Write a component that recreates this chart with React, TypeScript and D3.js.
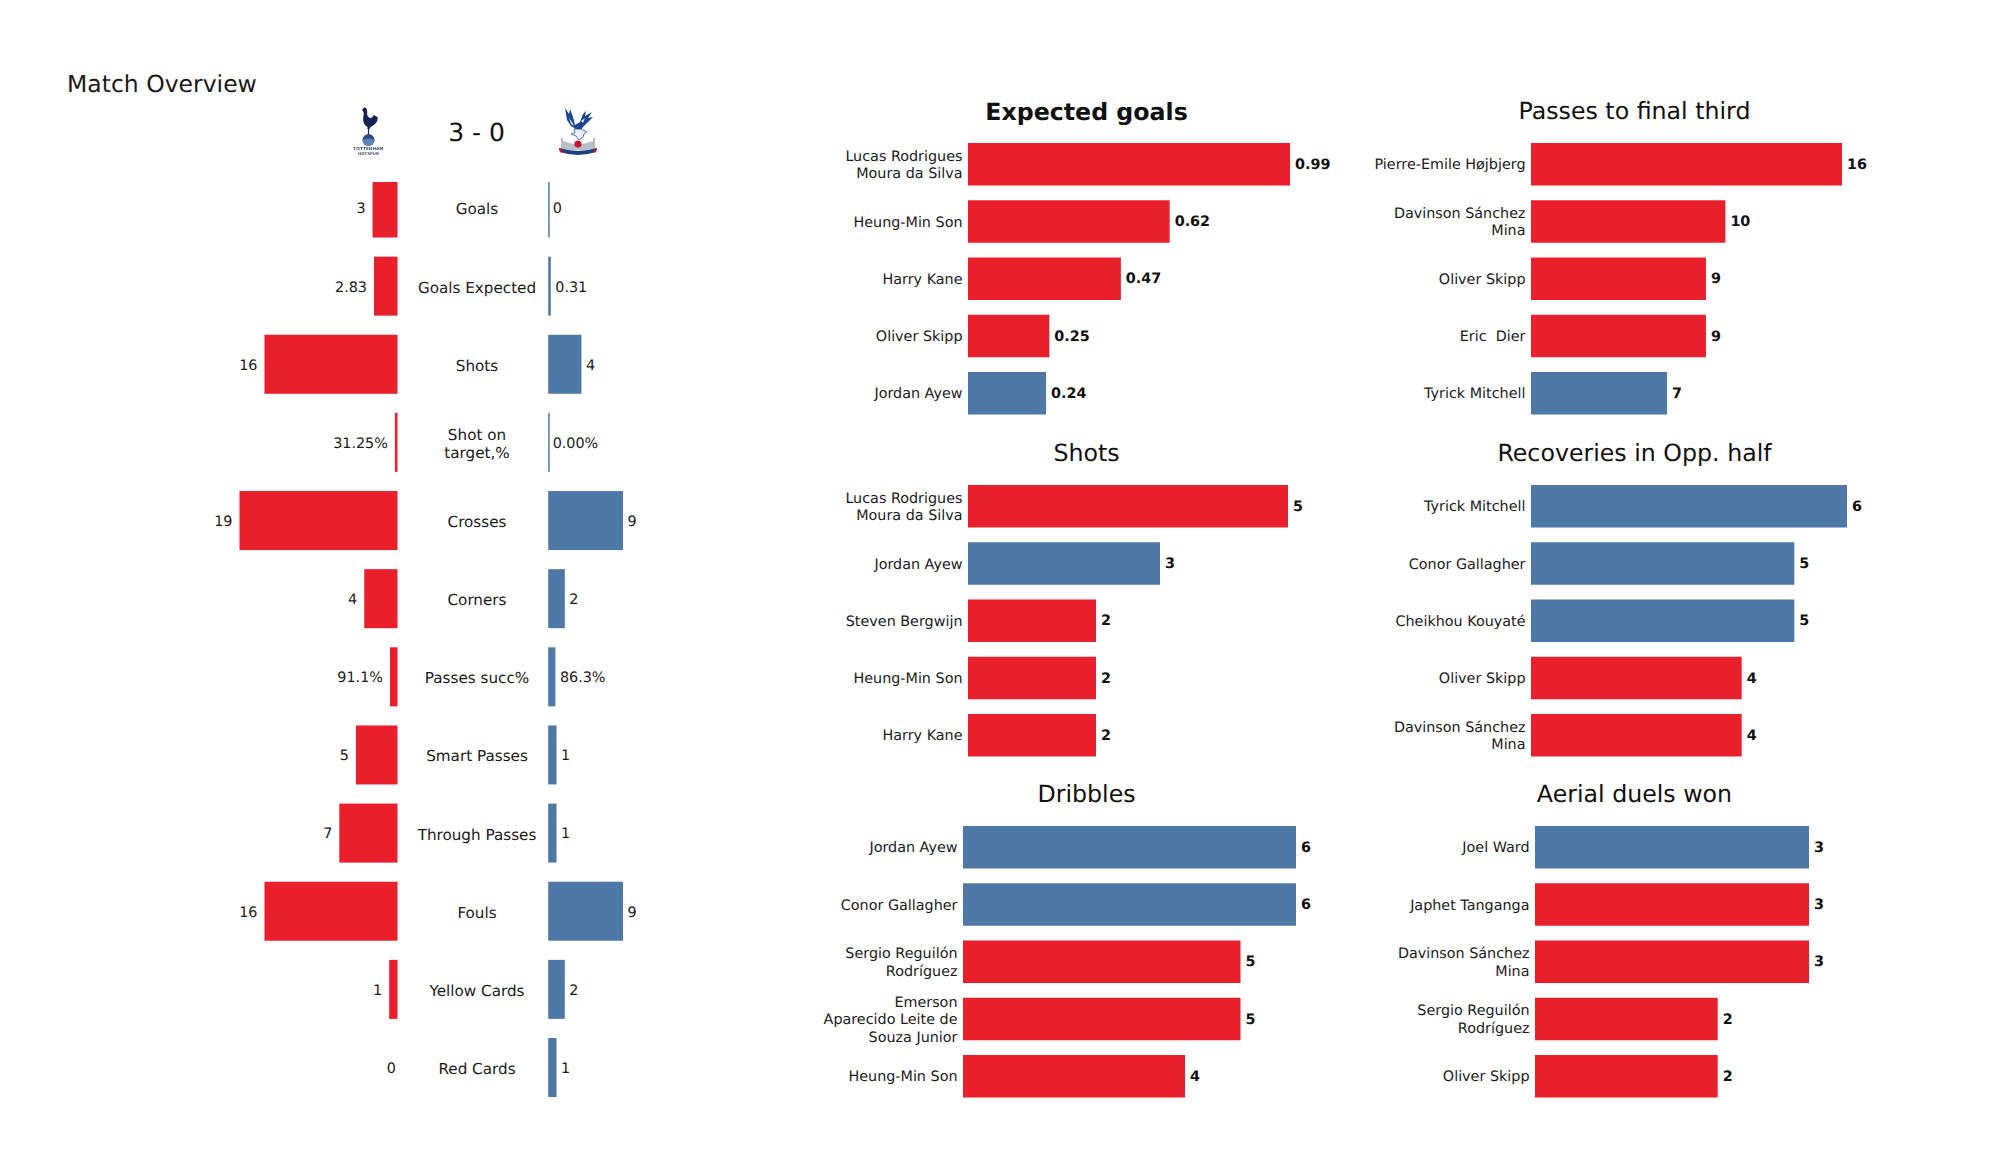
import React from "react";
import * as d3 from "d3";

const RED = "#EA1F2C";
const BLUE = "#4E79A7";
const FONT = "'DejaVu Sans', sans-serif";

const overviewLabels = ["Goals", "Goals Expected", "Shots", "Shot on\ntarget,%", "Crosses", "Corners", "Passes succ%", "Smart Passes", "Through Passes", "Fouls", "Yellow Cards", "Red Cards"];
const homeValues = [3, 2.83, 16, 0.3125, 19, 4, 0.911, 5, 7, 16, 1, 0];
const awayValues = [0, 0.31, 4, 0, 9, 2, 0.863, 1, 1, 9, 2, 1];
const homeText = ["3", "2.83", "16", "31.25%", "19", "4", "91.1%", "5", "7", "16", "1", "0"];
const awayText = ["0", "0.31", "4", "0.00%", "9", "2", "86.3%", "1", "1", "9", "2", "1"];

type Panel = { title: string; bold?: boolean; names: string[]; values: number[]; teams: string[]; text: string[]; x0: number; x1: number; max: number; top: number; titleX: number; titleY: number };

const xgNames = ["Lucas Rodrigues\nMoura da Silva", "Heung-Min Son", "Harry Kane", "Oliver Skipp", "Jordan Ayew"];
const xgValues = [0.99, 0.62, 0.47, 0.25, 0.24];
const xgTeams = ["h", "h", "h", "h", "a"];
const finalThirdNames = ["Pierre-Emile Højbjerg", "Davinson Sánchez\nMina", "Oliver Skipp", "Eric  Dier", "Tyrick Mitchell"];
const finalThirdValues = [16, 10, 9, 9, 7];
const finalThirdTeams = ["h", "h", "h", "h", "a"];
const shotNames = ["Lucas Rodrigues\nMoura da Silva", "Jordan Ayew", "Steven Bergwijn", "Heung-Min Son", "Harry Kane"];
const shotValues = [5, 3, 2, 2, 2];
const shotTeams = ["h", "a", "h", "h", "h"];
const recoveryNames = ["Tyrick Mitchell", "Conor Gallagher", "Cheikhou Kouyaté", "Oliver Skipp", "Davinson Sánchez\nMina"];
const recoveryValues = [6, 5, 5, 4, 4];
const recoveryTeams = ["a", "a", "a", "h", "h"];
const dribbleNames = ["Jordan Ayew", "Conor Gallagher", "Sergio Reguilón\nRodríguez", "Emerson\nAparecido Leite de\nSouza Junior", "Heung-Min Son"];
const dribbleValues = [6, 6, 5, 5, 4];
const dribbleTeams = ["a", "a", "h", "h", "h"];
const aerialNames = ["Joel Ward", "Japhet Tanganga", "Davinson Sánchez\nMina", "Sergio Reguilón\nRodríguez", "Oliver Skipp"];
const aerialValues = [3, 3, 3, 2, 2];
const aerialTeams = ["a", "h", "h", "h", "h"];

const panels: Panel[] = [
  { title: "Expected goals", bold: true, names: xgNames, values: xgValues, teams: xgTeams, text: xgValues.map(String), x0: 968, x1: 1290, max: 0.99, top: 143, titleX: 1086.5, titleY: 119.5 },
  { title: "Passes to final third", names: finalThirdNames, values: finalThirdValues, teams: finalThirdTeams, text: finalThirdValues.map(String), x0: 1531, x1: 1842, max: 16, top: 143, titleX: 1634.5, titleY: 119 },
  { title: "Shots", names: shotNames, values: shotValues, teams: shotTeams, text: shotValues.map(String), x0: 968, x1: 1288, max: 5, top: 485, titleX: 1086.5, titleY: 461 },
  { title: "Recoveries in Opp. half", names: recoveryNames, values: recoveryValues, teams: recoveryTeams, text: recoveryValues.map(String), x0: 1531, x1: 1847, max: 6, top: 485, titleX: 1634.5, titleY: 461 },
  { title: "Dribbles", names: dribbleNames, values: dribbleValues, teams: dribbleTeams, text: dribbleValues.map(String), x0: 963, x1: 1296, max: 6, top: 826, titleX: 1086.5, titleY: 802 },
  { title: "Aerial duels won", names: aerialNames, values: aerialValues, teams: aerialTeams, text: aerialValues.map(String), x0: 1535, x1: 1809, max: 3, top: 826, titleX: 1634.5, titleY: 802 },
];

const Multi = ({ x, y, text, size, anchor, lh }: { x: number; y: number; text: string; size: number; anchor: string; lh: number }) => {
  const lines = text.split("\n");
  const start = y - ((lines.length - 1) * lh) / 2;
  return (
    <text textAnchor={anchor as any} fontSize={size} fill="#1a1a1a">
      {lines.map((l, i) => (
        <tspan key={i} x={x} y={start + i * lh} dy="0.36em" style={{ whiteSpace: "pre" }}>{l}</tspan>
      ))}
    </text>
  );
};

const Spurs = () => (
  <g transform="translate(368.5,132)" filter="url(#soft)">
    <path fill="#132257" d="M-5,-24 C-3,-25 -2,-24 -1.5,-22 C-1,-19 -2,-17 0,-15 C2,-13 4,-14 5,-17 L9,-15 C10,-10 6,-7 2,-5 L1,-3 L-1,-3 L-1,-5 C-5,-7 -6,-12 -5,-16 C-4.5,-19 -5,-21 -6.5,-22 Z" />
    <rect x="-0.6" y="-4" width="1.2" height="7" fill="#132257" />
    <circle cx="0" cy="8" r="6" fill="#2f4f86" />
    <path d="M-6,8 A6,6 0 0 0 6,8 Q0,5 -6,8 Z" fill="#5f86b5" />
    <text y="18" textAnchor="middle" fontSize="4.3" fill="#46567a" fontWeight="bold">TOTTENHAM</text>
    <text y="23" textAnchor="middle" fontSize="3.9" fill="#46567a" fontWeight="bold">HOTSPUR</text>
  </g>
);

const Palace = () => (
  <g transform="translate(578,131)" filter="url(#soft)">
    <path fill="#1b458f" d="M-13,-23 L-9,-17 L-8,-22 L-5,-14 L-3,-6 L2,-9 L5,-17 L8,-20 L7,-15 L14,-19 L10,-13 L15,-14 L9,-8 L5,-4 L3,-1 L-2,-2 L-7,-5 L-11,-11 Z" />
    <path fill="#dfe7f1" d="M-9,-13 L-6,-9 L-4,-5 L-7,-7 Z M3,-10 L7,-13 L5,-8 Z" />
    <path fill="#e8eef5" stroke="#1b458f" strokeWidth="0.7" d="M-4,-2 L3,-2 L9,1 L6,3 L5,6 L1,9 L-2,5 L-7,3 L-3,2 Z" />
    <path fill="#b9bfc8" d="M-17,7 L-15,7 L-15,10 L-5,13 L5,13 L15,10 L15,7 L17,7 L17,19 L-17,19 Z" />
    <circle cx="0" cy="13" r="3.6" fill="#c4122e" />
    <path fill="#1b3f7f" d="M-19,17 Q0,23 19,17 L18,21 Q0,27 -18,21 Z" />
    <path fill="#c4122e" d="M-19,17 L-18,21 L-15.5,22 L-16,18 Z M19,17 L18,21 L15.5,22 L16,18 Z" />
  </g>
);

export default function App() {
  const ov = d3.scaleLinear().domain([0, 19]).range([0, 158]);
  const rows = d3.scaleLinear().domain([0, 11]).range([208, 1067.5]);
  const rowH = 59;
  const homeEdge = 397.5;
  const awayEdge = 548.2;
  return (
    <svg width={2000} height={1175} textRendering="geometricPrecision" style={{ position: "absolute", left: 0, top: 0, fontFamily: FONT, background: "#fff" }}>
      <defs>
        <filter id="soft" x="-20%" y="-20%" width="140%" height="140%"><feGaussianBlur stdDeviation="0.45" /></filter>
      </defs>
      <text x={67} y={92} fontSize={23.5} fill="#1a1a1a">Match Overview</text>
      <text x={476.5} y={140.5} fontSize={25} textAnchor="middle" fill="#111">3 - 0</text>
      <Spurs />
      <Palace />
      {overviewLabels.map((label, i) => {
        const y = rows(i);
        const hw = ov(homeValues[i]);
        const aw = ov(awayValues[i]);
        const top = Math.max(y - rowH / 2, 182);
        const bottom = y + rowH / 2;
        return (
          <g key={label}>
            <rect x={homeEdge - hw} y={top} width={hw} height={bottom - top} fill={RED} opacity={homeValues[i] ? 1 : 0} />
            <rect x={awayEdge} y={top} width={Math.max(aw, 1.5)} height={bottom - top} fill={BLUE} />
            <Multi x={477} y={y + 1} text={label} size={15.2} anchor="middle" lh={18} />
            <Multi x={homeEdge - hw - (homeValues[i] ? 7 : 1.5)} y={y + 0.2} text={homeText[i]} size={14.35} anchor="end" lh={17} />
            <Multi x={awayEdge + aw + 4.5} y={y + 0.2} text={awayText[i]} size={14.35} anchor="start" lh={17} />
          </g>
        );
      })}
      {panels.map((p) => {
        const x = d3.scaleLinear().domain([0, p.max]).range([p.x0, p.x1]);
        const bh = 42.5;
        return (
          <g key={p.title}>
            <text x={p.titleX} y={p.titleY} textAnchor="middle" fontSize={23.7} fontWeight={p.bold ? "bold" : "normal"} fill="#111">{p.title}</text>
            {p.names.map((n, i) => {
              const top = p.top + i * 57.25;
              const cy = top + bh / 2;
              return (
                <g key={n}>
                  <rect x={p.x0} y={top} width={x(p.values[i]) - p.x0} height={bh} fill={p.teams[i] === "h" ? RED : BLUE} />
                  <Multi x={p.x0 - 5.5} y={cy} text={n} size={14.35} anchor="end" lh={17.4} />
                  <text x={x(p.values[i]) + 5} y={cy - 0.5} dy="0.36em" fontSize={14.35} fontWeight="bold" fill="#111">{p.text[i]}</text>
                </g>
              );
            })}
          </g>
        );
      })}
    </svg>
  );
}
